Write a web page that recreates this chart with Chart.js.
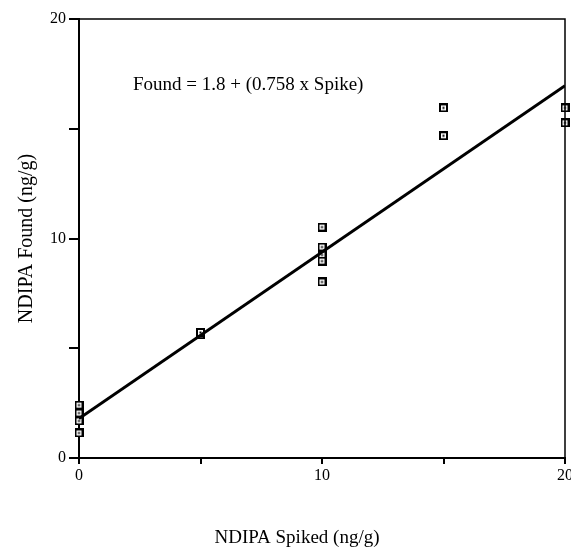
<!DOCTYPE html>
<html lang="en">
<head>
  <meta charset="UTF-8" />
  <title>NDIPA Found vs Spiked</title>
  <script src="https://cdn.jsdelivr.net/npm/chart.js"></script>
  <style>
    html, body { margin: 0; padding: 0; background: #fff; overflow: hidden; }
    canvas { display: block; }
  </style>
</head>
<body>
  <canvas id="chart" width="600" height="548"></canvas>

  <script>
    // data
    const spiked = [0, 0, 0, 0, 5, 5, 10, 10, 10, 10, 10, 15, 15, 20, 20];
    const found = [2.41, 2.05, 1.69, 1.14, 5.62, 5.72, 10.52, 9.61, 9.25, 8.97, 8.02, 15.95, 14.68, 15.95, 15.27];
    // regression line end points: Found = 1.8 + 0.758 x Spike
    const fitX = [0, 20];
    const fitY = [1.8, 16.96];
    const xTicks = [0, 10, 20];
    const equation = 'Found = 1.8 + (0.758 x Spike)';
    const xTitle = 'NDIPA Spiked (ng/g)';
    const yTitle = 'NDIPA Found (ng/g)';

    const serif = "'Liberation Serif', 'DejaVu Serif', serif";

    // square marker with a dot in the middle
    function makeMarker() {
      const c = document.createElement('canvas');
      c.width = 9; c.height = 9;
      const g = c.getContext('2d');
      g.fillStyle = '#000';
      g.fillRect(0, 0, 9, 9);
      g.fillStyle = '#fff';
      g.fillRect(2, 2, 5, 5);
      g.fillStyle = '#000';
      g.fillRect(3.5, 3.5, 2, 2);
      return c;
    }

    const extras = {
      id: 'extras',
      afterDraw(chart) {
        const { ctx, chartArea: a } = chart;
        ctx.save();
        // frame top + right
        ctx.strokeStyle = '#000';
        ctx.lineWidth = 1.5;
        ctx.beginPath();
        ctx.moveTo(a.left, a.top);
        ctx.lineTo(a.right, a.top);
        ctx.lineTo(a.right, a.bottom);
        ctx.stroke();
        // equation
        ctx.fillStyle = '#000';
        ctx.font = '19px ' + serif;
        ctx.textBaseline = 'middle';
        ctx.textAlign = 'left';
        ctx.fillText(equation, 133, 85);
        // x axis title
        ctx.textAlign = 'center';
        ctx.fillText(xTitle, 297, 538);
        ctx.restore();
      }
    };

    const ctx = document.getElementById('chart').getContext('2d');
    new Chart(ctx, {
      type: 'scatter',
      data: {
        datasets: [
          {
            type: 'line',
            data: fitX.map((x, i) => ({ x: x, y: fitY[i] })),
            borderColor: '#000',
            borderWidth: 3,
            pointRadius: 0,
            fill: false
          },
          {
            data: spiked.map((x, i) => ({ x: x, y: found[i] })),
            pointStyle: makeMarker(),
            pointRadius: 4.5,
            clip: false
          }
        ]
      },
      plugins: [extras],
      options: {
        responsive: false,
        animation: false,
        layout: { padding: { left: 0, top: 19, right: 35, bottom: 0 } },
        plugins: { legend: { display: false }, tooltip: { enabled: false } },
        scales: {
          x: {
            type: 'linear', min: 0, max: 20,
            afterFit: s => { s.height = 90; },
            ticks: {
              stepSize: 5,
              color: '#000',
              padding: 2,
              maxRotation: 0,
              font: { family: serif, size: 16 },
              callback: v => xTicks.includes(v) ? v : ''
            },
            grid: { drawOnChartArea: false, color: '#000', tickLength: 6, lineWidth: 2 },
            border: { color: '#000', width: 2 }
          },
          y: {
            type: 'linear', min: 0, max: 20,
            afterFit: s => { s.width = 79; },
            ticks: {
              stepSize: 5,
              color: '#000',
              padding: 3,
              font: { family: serif, size: 16 },
              callback: v => xTicks.includes(v) ? v : ''
            },
            grid: { drawOnChartArea: false, color: '#000', tickLength: 10, lineWidth: 2 },
            border: { color: '#000', width: 2 },
            title: {
              display: true,
              text: yTitle,
              color: '#000',
              font: { family: serif, size: 20 },
              padding: { top: 15, bottom: 0 }
            }
          }
        }
      }
    });
  </script>
</body>
</html>
